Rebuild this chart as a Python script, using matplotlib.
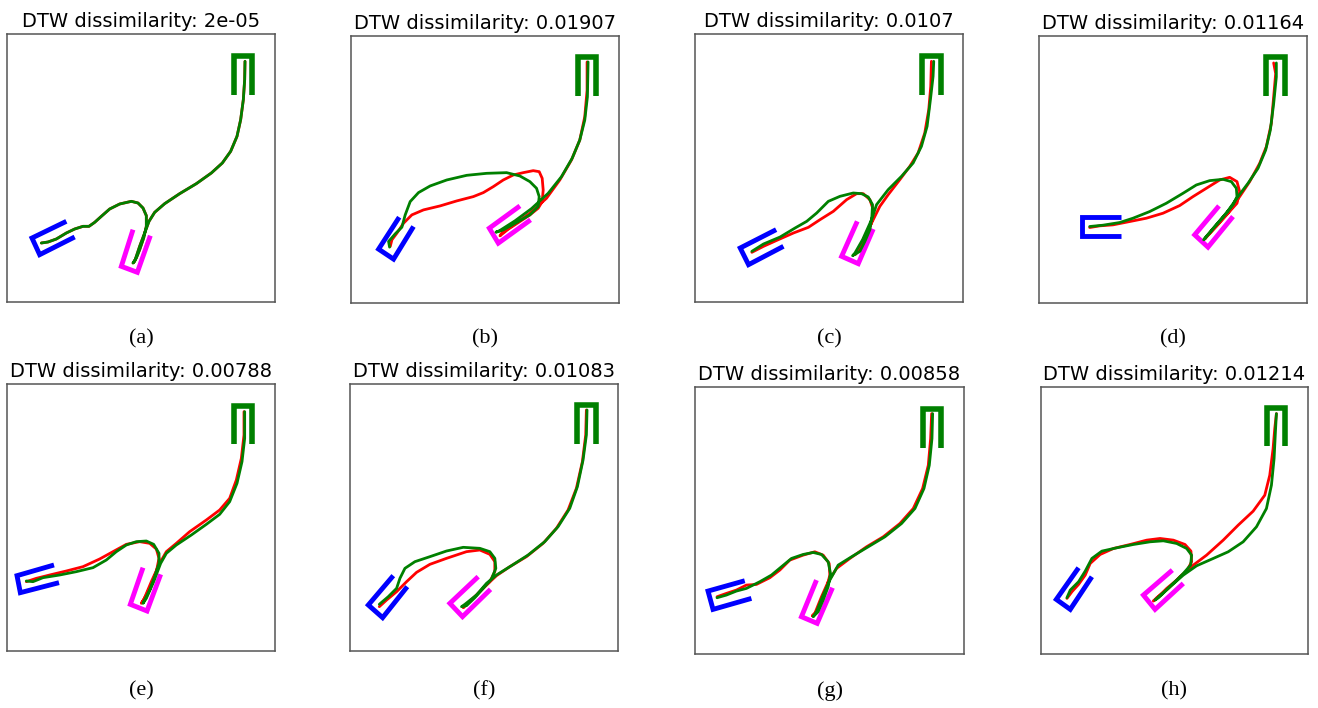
import matplotlib.pyplot as plt

# figure size in pixels
W, H = 1318, 708

titles = [
    "DTW dissimilarity: 2e-05",
    "DTW dissimilarity: 0.01907",
    "DTW dissimilarity: 0.0107",
    "DTW dissimilarity: 0.01164",
    "DTW dissimilarity: 0.00788",
    "DTW dissimilarity: 0.01083",
    "DTW dissimilarity: 0.00858",
    "DTW dissimilarity: 0.01214",
]
captions = ["(a)", "(b)", "(c)", "(d)", "(e)", "(f)", "(g)", "(h)"]

# each panel: frame (x0, x1, y0, y1) in image units, y pointing down
frame_a = (22, 826, 103, 907)
target_a = [(703, 287), (703, 170), (757, 170), (757, 287)]
blue_a = [(200, 665), (97, 715), (120, 765), (225, 712)]
magenta_a = [(400, 690), (365, 800), (413, 818), (452, 708)]
green_a = [(125, 730), (145, 727), (170, 718), (200, 700), (225, 688), (250, 680),
           (268, 680), (285, 668), (305, 650), (330, 628), (360, 613), (395, 605),
           (415, 610), (430, 625), (440, 648), (440, 680), (432, 715), (420, 750),
           (410, 775), (400, 790), (405, 785), (420, 740), (435, 700), (448, 665),
           (465, 638), (495, 612), (540, 582), (590, 552), (635, 520), (668, 490),
           (693, 455), (712, 410), (723, 360), (731, 300), (735, 240), (736, 185)]
red_a = list(green_a)

frame_b = (32, 838, 107, 910)
target_b = [(715, 287), (715, 170), (768, 170), (768, 287)]
blue_b = [(177, 652), (115, 748), (160, 778), (220, 680)]
magenta_b = [(540, 618), (448, 685), (475, 730), (572, 660)]
red_b = [(150, 740), (155, 720), (170, 700), (190, 670), (215, 645), (250, 630),
         (300, 618), (350, 603), (400, 590), (430, 578), (460, 560), (490, 540),
         (520, 525), (550, 518), (580, 512), (598, 515), (607, 535), (610, 570),
         (607, 605), (595, 625), (570, 645), (540, 665), (505, 688), (480, 708),
         (485, 700), (520, 675), (570, 640), (620, 595), (660, 540), (695, 480),
         (720, 420), (735, 350), (742, 270), (742, 185)]
green_b = [(148, 742), (145, 725), (165, 702), (185, 682), (195, 645), (210, 605),
           (235, 578), (270, 558), (320, 540), (380, 526), (440, 520), (500, 518),
           (540, 528), (570, 545), (590, 565), (598, 590), (595, 620), (570, 645),
           (530, 668), (490, 690), (468, 697), (478, 693), (525, 663), (575, 626),
           (625, 580), (665, 530), (697, 475), (720, 420), (735, 360), (743, 290),
           (745, 185)]

frame_c = (44, 850, 103, 907)
target_c = [(727, 287), (727, 170), (783, 170), (783, 287)]
blue_c = [(288, 690), (180, 745), (205, 795), (310, 740)]
magenta_c = [(532, 665), (485, 770), (535, 792), (580, 688)]
red_c = [(215, 758), (250, 740), (290, 722), (340, 700), (385, 683), (420, 660),
         (460, 635), (500, 600), (530, 582), (550, 582), (570, 600), (580, 630),
         (575, 670), (560, 705), (545, 735), (525, 765), (530, 760), (555, 710),
         (580, 660), (600, 620), (625, 585), (660, 540), (690, 500), (715, 460),
         (735, 400), (747, 330), (753, 260), (755, 185)]
green_c = [(215, 755), (250, 733), (300, 712), (345, 685), (380, 665), (410, 640),
           (445, 605), (480, 590), (520, 580), (545, 582), (565, 592), (578, 615),
           (576, 650), (570, 690), (555, 725), (540, 755), (518, 768), (525, 760),
           (548, 720), (575, 660), (590, 615), (625, 570), (665, 530), (700, 490),
           (725, 440), (742, 380), (752, 300), (760, 230), (762, 185)]

frame_d = (58, 862, 107, 910)
target_d = [(740, 287), (740, 170), (795, 170), (795, 287)]
blue_d = [(305, 652), (188, 652), (188, 708), (305, 708)]
magenta_d = [(598, 618), (525, 705), (565, 742), (640, 650)]
red_d = [(210, 683), (240, 678), (280, 675), (330, 665), (380, 655), (430, 640),
         (480, 617), (520, 590), (560, 565), (600, 540), (630, 532), (652, 545),
         (660, 575), (652, 610), (625, 640), (595, 672), (570, 700), (555, 718),
         (560, 712), (590, 680), (625, 640), (660, 590), (690, 545), (720, 490),
         (740, 440), (755, 370), (762, 290), (768, 220), (762, 188)]
green_d = [(210, 680), (250, 676), (300, 668), (340, 655), (390, 635), (440, 610),
           (490, 580), (530, 555), (570, 542), (610, 538), (635, 545), (650, 565),
           (652, 590), (640, 615), (615, 645), (590, 675), (565, 705), (552, 720),
           (558, 712), (585, 680), (620, 640), (655, 590), (685, 550), (715, 505),
           (738, 450), (752, 390), (762, 310), (770, 230), (770, 188)]

frame_e = (22, 826, 87, 888)
target_e = [(703, 268), (703, 153), (758, 153), (758, 268)]
blue_e = [(163, 630), (52, 662), (62, 713), (178, 683)]
magenta_e = [(430, 638), (392, 748), (442, 768), (483, 658)]
red_e = [(80, 680), (110, 670), (150, 660), (200, 648), (250, 635), (300, 612),
         (340, 590), (380, 568), (420, 560), (450, 565), (470, 582), (478, 610),
         (470, 650), (455, 690), (440, 720), (425, 745), (432, 735), (455, 680),
         (480, 625), (500, 590), (530, 565), (570, 530), (620, 495), (660, 465),
         (690, 430), (710, 375), (725, 310), (733, 240), (733, 170)]
green_e = [(80, 678), (100, 680), (130, 668), (180, 660), (230, 650), (280, 638),
           (320, 615), (350, 590), (380, 570), (410, 560), (440, 558), (462, 568),
           (478, 595), (478, 625), (465, 665), (450, 705), (430, 745), (440, 730),
           (462, 680), (483, 625), (500, 595), (530, 570), (575, 540), (620, 508),
           (660, 478), (690, 440), (712, 385), (727, 320), (735, 250), (735, 170)]

frame_f = (30, 835, 87, 888)
target_f = [(712, 267), (712, 150), (768, 150), (768, 267)]
blue_f = [(160, 662), (85, 750), (128, 788), (202, 695)]
magenta_f = [(415, 665), (330, 745), (368, 785), (452, 703)]
red_f = [(118, 755), (140, 735), (170, 710), (200, 680), (230, 652), (270, 628),
         (320, 610), (380, 590), (420, 585), (450, 598), (465, 620), (465, 650),
         (450, 680), (420, 710), (395, 735), (370, 758), (375, 752), (405, 725),
         (440, 690), (470, 662), (510, 635), (560, 605), (610, 565), (650, 520),
         (685, 465), (710, 400), (728, 320), (738, 240), (740, 165)]
green_f = [(118, 748), (145, 725), (170, 700), (180, 670), (195, 640), (225, 620),
           (270, 605), (320, 588), (370, 577), (420, 580), (450, 590), (465, 610),
           (468, 640), (455, 672), (430, 700), (405, 728), (380, 752), (365, 755),
           (375, 748), (410, 720), (440, 685), (470, 660), (515, 632), (565, 600),
           (615, 560), (655, 515), (690, 460), (713, 395), (730, 315), (740, 240),
           (742, 165)]

frame_g = (46, 852, 95, 897)
target_g = [(730, 277), (730, 160), (783, 160), (783, 277)]
blue_g = [(195, 677), (85, 708), (100, 763), (215, 730)]
magenta_g = [(410, 675), (365, 785), (412, 805), (458, 698)]
red_g = [(112, 725), (140, 715), (170, 705), (200, 690), (230, 688), (270, 668),
         (300, 645), (330, 615), (370, 600), (405, 590), (430, 600), (448, 625),
         (450, 660), (440, 700), (425, 740), (410, 770), (398, 782), (405, 775),
         (425, 725), (445, 680), (470, 640), (510, 610), (560, 575), (610, 545),
         (660, 505), (700, 460), (728, 400), (745, 330), (752, 250), (755, 175)]
green_g = [(112, 728), (140, 720), (170, 708), (200, 700), (240, 680), (275, 660),
           (305, 635), (335, 610), (370, 598), (400, 592), (425, 598), (445, 620),
           (452, 655), (445, 695), (430, 735), (415, 770), (400, 785), (410, 770),
           (430, 720), (450, 675), (475, 630), (515, 605), (565, 575), (615, 545),
           (665, 505), (705, 460), (732, 400), (748, 330), (756, 250), (758, 175)]

frame_h = (62, 865, 95, 897)
target_h = [(743, 273), (743, 157), (797, 157), (797, 273)]
blue_h = [(175, 638), (108, 733), (150, 763), (215, 665)]
magenta_h = [(457, 645), (370, 720), (405, 763), (490, 685)]
red_h = [(140, 730), (155, 710), (175, 688), (195, 660), (210, 625), (240, 598),
         (280, 580), (330, 568), (380, 555), (420, 550), (460, 555), (495, 568),
         (513, 588), (515, 620), (500, 648), (470, 675), (440, 700), (410, 730),
         (400, 738), (410, 728), (445, 700), (480, 665), (520, 630), (560, 600),
         (610, 555), (655, 510), (700, 468), (735, 420), (750, 360), (760, 280),
         (765, 220), (770, 175)]
green_h = [(140, 728), (150, 705), (175, 680), (195, 648), (215, 610), (245, 588),
           (290, 578), (340, 568), (390, 560), (430, 557), (470, 565), (500, 580),
           (515, 600), (512, 630), (490, 655), (460, 685), (430, 713), (405, 735),
           (415, 728), (450, 695), (490, 660), (530, 632), (580, 610), (625, 590),
           (670, 560), (710, 515), (740, 460), (755, 390), (763, 310), (767, 230),
           (770, 175)]

panels = [
    (frame_a, target_a, blue_a, magenta_a, red_a, green_a),
    (frame_b, target_b, blue_b, magenta_b, red_b, green_b),
    (frame_c, target_c, blue_c, magenta_c, red_c, green_c),
    (frame_d, target_d, blue_d, magenta_d, red_d, green_d),
    (frame_e, target_e, blue_e, magenta_e, red_e, green_e),
    (frame_f, target_f, blue_f, magenta_f, red_f, green_f),
    (frame_g, target_g, blue_g, magenta_g, red_g, green_g),
    (frame_h, target_h, blue_h, magenta_h, red_h, green_h),
]

# axes boxes in figure pixels (left, top, right, bottom)
boxes = [
    (7, 34, 275, 302), (351, 36, 619, 303), (695, 34, 963, 302), (1039, 36, 1307, 303),
    (7, 384, 275, 651), (350, 384, 618, 651), (695, 387, 964, 654), (1041, 387, 1308, 654),
]
caption_y = [339, 339, 339, 339, 691, 691, 691, 691]


def xy(points):
    return [p[0] for p in points], [p[1] for p in points]


fig = plt.figure(figsize=(W / 100, H / 100), dpi=100)

for i, (frame, target, blue, magenta, red, green) in enumerate(panels):
    l, t, r, b = boxes[i]
    ax = fig.add_axes([l / W, 1 - b / H, (r - l) / W, (b - t) / H])

    for pts, col, lw in [(target, "green", 4.0), (blue, "blue", 3.5), (magenta, "magenta", 3.5)]:
        bx, by = xy(pts)
        ax.plot(bx, by, color=col, lw=lw, solid_capstyle="butt", solid_joinstyle="miter")

    rx, ry = xy(red)
    ax.plot(rx, ry, color="red", lw=2.0, solid_joinstyle="round", solid_capstyle="round")
    gx, gy = xy(green)
    ax.plot(gx, gy, color="green", lw=2.0, solid_joinstyle="round", solid_capstyle="round")

    ax.set_xlim(frame[0], frame[1])
    ax.set_ylim(frame[3], frame[2])
    ax.set_xticks([])
    ax.set_yticks([])
    for sp in ax.spines.values():
        sp.set_color("#555555")
        sp.set_linewidth(1.1)
    ax.set_title(titles[i], fontsize=14, pad=5)

    fig.text((l + r) / 2 / W, 1 - caption_y[i] / H, captions[i], ha="center", va="center",
             fontsize=16, family="Liberation Serif")

fig.savefig("out.png", dpi=100)
